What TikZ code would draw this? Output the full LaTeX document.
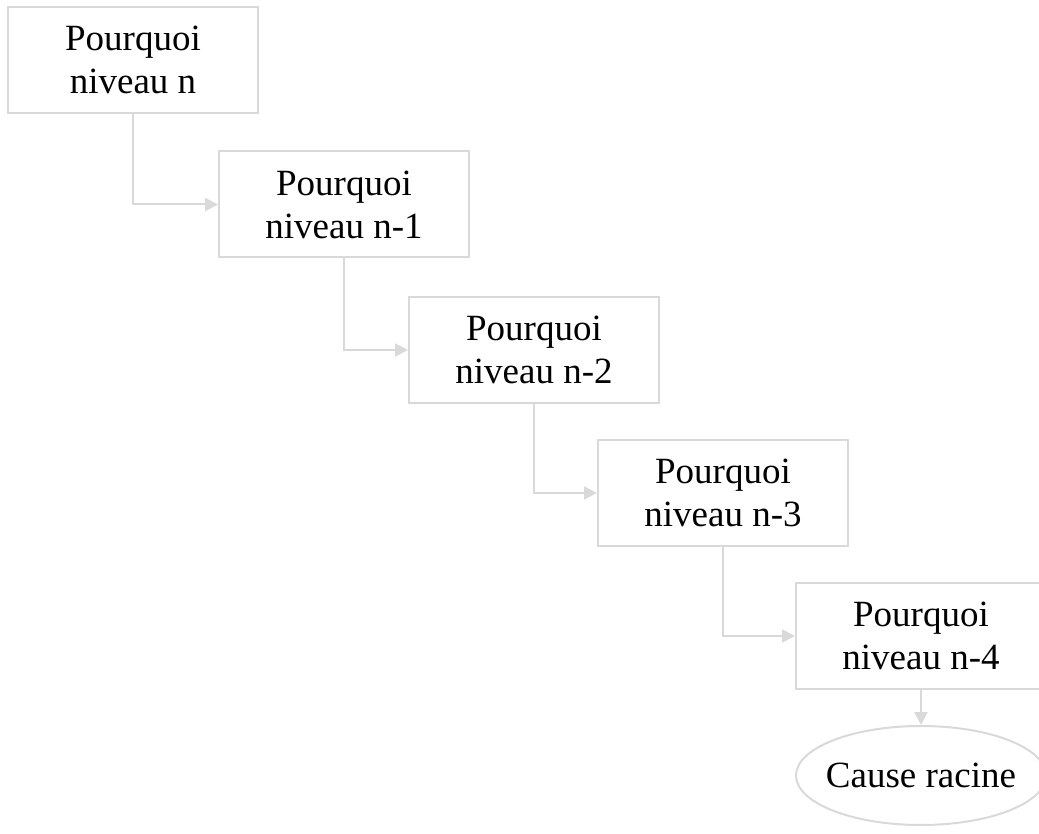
\documentclass[tikz,border=0pt]{standalone}
\usepackage{fontspec}
\setmainfont{Liberation Serif}
\usetikzlibrary{arrows.meta,shapes.geometric}
\definecolor{linegray}{HTML}{D9D9D9}
\begin{document}
\begin{tikzpicture}[x=1pt,y=-1pt,
  line/.style={draw=linegray, line width=2pt},
  whybox/.style={line, rectangle, minimum width=250pt, minimum height=106pt,
    inner sep=0pt, align=center, font=\fontsize{37}{43}\selectfont},
  rootnode/.style={line, ellipse, minimum width=250pt, minimum height=99pt,
    inner sep=0pt, font=\fontsize{37}{43}\selectfont},
  conn/.style={line, -{Triangle[length=13pt,width=13pt]}}]
  \clip (0,0) rectangle (1039,834);
  \useasboundingbox (0,0) rectangle (1039,834);

  % chain of "why" levels
  \node[whybox] (b1) at (133,60)    {Pourquoi\\niveau n};
  \node[whybox] (b2) at (344,204.5) {Pourquoi\\niveau n-1};
  \node[whybox] (b3) at (534,350)   {Pourquoi\\niveau n-2};
  \node[whybox] (b4) at (723,493)   {Pourquoi\\niveau n-3};
  \node[whybox] (b5) at (921,636)   {Pourquoi\\niveau n-4};
  \node[rootnode] (root) at (921,775.5) {\makebox[140pt][c]{Cause racine}};

  % elbow connectors
  \draw[conn] (b1.south) |- (b2.west);
  \draw[conn] (b2.south) |- (b3.west);
  \draw[conn] (b3.south) |- (b4.west);
  \draw[conn] (b4.south) |- (b5.west);
  \draw[conn] (b5.south) -- (root.north);
\end{tikzpicture}
\end{document}
